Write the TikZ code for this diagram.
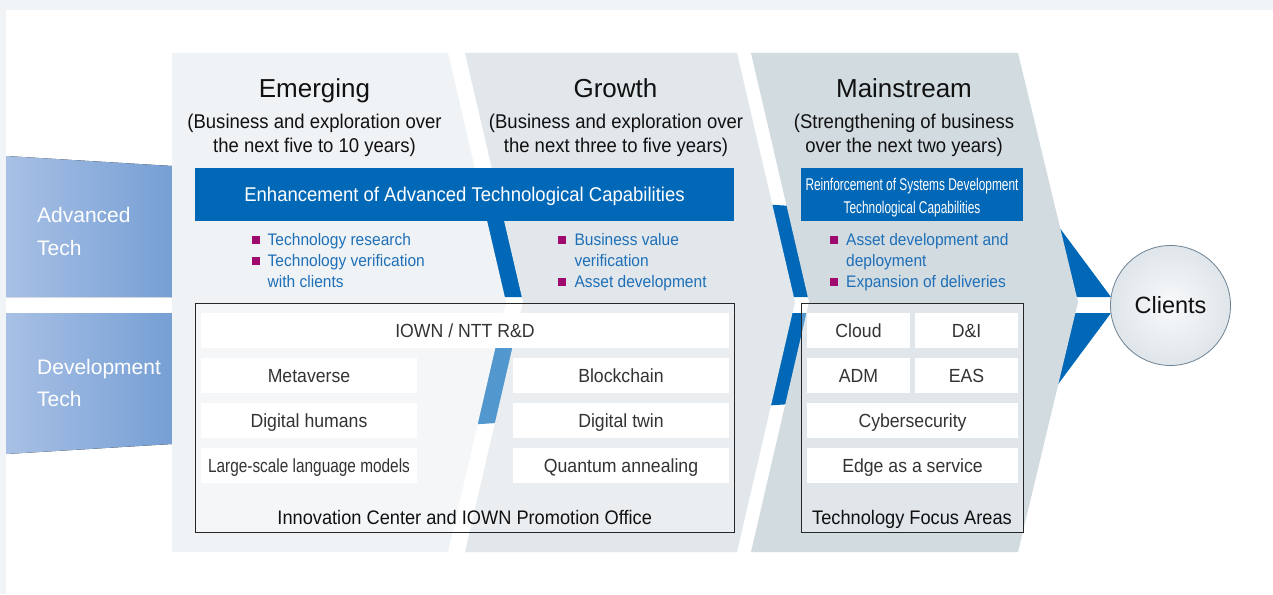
\documentclass[tikz,border=0pt]{standalone}
\usepackage{fontspec}
\setmainfont{Liberation Sans}
\newfontfamily\condfont[FakeStretch=0.70]{Liberation Sans}
\newfontfamily\semicond[FakeStretch=0.81]{Liberation Sans}
\newfontfamily\rob[FakeStretch=0.93]{Liberation Sans}
\definecolor{bgout}{HTML}{F1F4F6}
\definecolor{chevA}{HTML}{EFF3F6}
\definecolor{chevB}{HTML}{E1E7EB}
\definecolor{chevC}{HTML}{D2DBE0}
\definecolor{nttblue}{HTML}{0068B7}
\definecolor{bultxt}{HTML}{1E6FB8}
\definecolor{bulmag}{HTML}{9E0A6E}
\definecolor{gradL}{HTML}{A8C0E5}
\definecolor{gradR}{HTML}{769FD4}
\definecolor{itemtxt}{HTML}{333333}
\definecolor{titletxt}{HTML}{111111}
\definecolor{circedge}{HTML}{6F8394}
\begin{document}
\begin{tikzpicture}[x=1pt,y=-1pt,
  bar/.style={fill=nttblue, inner sep=0pt, text=white},
  item/.style={fill=white, minimum height=35, inner sep=0pt, text=itemtxt,
    font=\rob\fontsize{19}{22}\selectfont, text height=13.6pt, text depth=0pt},
  frame/.style={draw=black!85, line width=0.8pt, fill=white, fill opacity=0.32, inner sep=0pt,
    minimum height=229},
  title/.style={font=\fontsize{26}{30}\selectfont, text=titletxt, anchor=base, inner sep=0pt},
  sub/.style={font=\rob\fontsize{19.9}{24}\selectfont, text=titletxt, anchor=base, inner sep=0pt},
  bul/.style={fill=bulmag, minimum size=8, inner sep=0pt},
  bultext/.style={font=\rob\fontsize{16.7}{21}\selectfont, text=bultxt, anchor=base west, inner sep=0pt},
  side/.style={font=\fontsize{21}{32}\selectfont, text=white, anchor=base west, inner sep=0pt},
  flabel/.style={font=\rob\fontsize{19.6}{22}\selectfont, text=titletxt, anchor=base, inner sep=0pt},
]
\useasboundingbox (0,0) rectangle (1273,594);
% background
\fill[bgout] (0,0) rectangle (1273,594);
\fill[white] (6,10) rectangle (1273,594);

% blue arrows behind the chevrons
\fill[nttblue] (170,166) -- (1056,223) -- (1111,297) -- (170,297) -- cycle;
\fill[nttblue] (170,313) -- (1111,313) -- (1056,387) -- (170,444) -- cycle;

% side boxes
\fill[left color=gradL, right color=gradR] (6,156) -- (172,166) -- (172,297) -- (6,297) -- cycle;
\fill[left color=gradL, right color=gradR] (6,313) -- (172,313) -- (172,444) -- (6,454) -- cycle;
\node[side] (adv1) at (37,222.7) {Advanced};
\node[side] (adv2) at (37,255) {Tech};
\node[side] (dev1) at (37,374.3) {Development};
\node[side] (dev2) at (37,406) {Tech};

% chevrons
\fill[chevA] (172,53) -- (448,53) -- (506,302) -- (448,552) -- (172,552) -- cycle;
\fill[chevB] (465,53) -- (737,53) -- (795,302) -- (737,552) -- (465,552) -- (523,302) -- cycle;
\fill[chevC] (751,53) -- (1018,53) -- (1078,302) -- (1018,552) -- (751,552) -- (809,302) -- cycle;

% titles
\node[title] (t1) at (314.5,97) {Emerging};
\node[title] (t2) at (615.5,97) {Growth};
\node[title] (t3) at (904,97) {Mainstream};
\node[sub] (s1a) at (314.5,128.3) {(Business and exploration over};
\node[sub] (s1b) at (314.5,152.3) {the next five to 10 years)};
\node[sub] (s2a) at (616,128.3) {(Business and exploration over};
\node[sub] (s2b) at (616,152.3) {the next three to five years)};
\node[sub] (s3a) at (904,128.3) {(Strengthening of business};
\node[sub] (s3b) at (904,152.3) {over the next two years)};

% bars
\node[bar, minimum width=539, minimum height=53, font=\rob\fontsize{19.9}{22}\selectfont,
  text height=14.2pt, text depth=0pt] (enh) at (464.5,194.5)
  {Enhancement of Advanced Technological Capabilities};
\node[bar, minimum width=222, minimum height=53] (reinf) at (912,194.5) {};
\node[font=\condfont\fontsize{17}{20}\selectfont, text=white, anchor=base, inner sep=0pt]
  (reinf1) at (912,190) {Reinforcement of Systems Development};
\node[font=\condfont\fontsize{17}{20}\selectfont, text=white, anchor=base, inner sep=0pt]
  (reinf2) at (912,213.3) {Technological Capabilities};

% bullets
\node[bul] (e1) at (256,239.5) {};
\node[bul] (e2) at (256,260.5) {};
\node[bultext] (e1t) at (267.5,245.5) {Technology research};
\node[bultext] (e2t) at (267.5,266.5) {Technology verification};
\node[bultext] (e3t) at (267.5,287.5) {with clients};
\node[bul] (g1) at (562,239.5) {};
\node[bul] (g2) at (562,281.5) {};
\node[bultext] (g1t) at (574.3,245.5) {Business value};
\node[bultext] (g2t) at (574.3,266.5) {verification};
\node[bultext] (g3t) at (574.3,287.5) {Asset development};
\node[bul] (m1) at (834.3,239.5) {};
\node[bul] (m2) at (834.3,281.5) {};
\node[bultext] (m1t) at (846,245.5) {Asset development and};
\node[bultext] (m2t) at (846,266.5) {deployment};
\node[bultext] (m3t) at (846,287.5) {Expansion of deliveries};

% frames
\node[frame, minimum width=539] (innov) at (464.5,417.5) {};
\node[frame, minimum width=222] (focus) at (912,417.5) {};

% items in innovation frame
\node[item, minimum width=528] (iown) at (465,330.5) {IOWN / NTT R\&D};
\node[item, minimum width=216] (meta) at (309,375.5) {Metaverse};
\node[item, minimum width=216] (dh) at (309,420.5) {Digital humans};
\node[item, minimum width=216, font=\semicond\fontsize{19}{22}\selectfont] (llm) at (309,465.5) {Large-scale language models};
\node[item, minimum width=216] (bc) at (621,375.5) {Blockchain};
\node[item, minimum width=216] (dt) at (621,420.5) {Digital twin};
\node[item, minimum width=216] (qa) at (621,465.5) {Quantum annealing};
\node[flabel] (innovlab) at (464.7,524.3) {Innovation Center and IOWN Promotion Office};

% items in focus frame
\node[item, minimum width=103] (cloud) at (858.5,330.5) {Cloud};
\node[item, minimum width=103] (di) at (966.5,330.5) {D\&I};
\node[item, minimum width=103] (adm) at (858.5,375.5) {ADM};
\node[item, minimum width=103] (eas) at (966.5,375.5) {EAS};
\node[item, minimum width=211] (cyber) at (912.5,420.5) {Cybersecurity};
\node[item, minimum width=211] (edge) at (912.5,465.5) {Edge as a service};
\node[flabel] (focuslab) at (912,524.3) {Technology Focus Areas};

% clients
\node[circle, minimum size=120, inner sep=0pt, draw=circedge, line width=0.8pt,
  inner color=white!60!chevA, outer color=chevB!85!chevC,
  font=\fontsize{23.5}{26}\selectfont, text=titletxt, text height=16.8pt, text depth=0pt]
  (clients) at (1170.5,305.5) {Clients};
\end{tikzpicture}
\end{document}
